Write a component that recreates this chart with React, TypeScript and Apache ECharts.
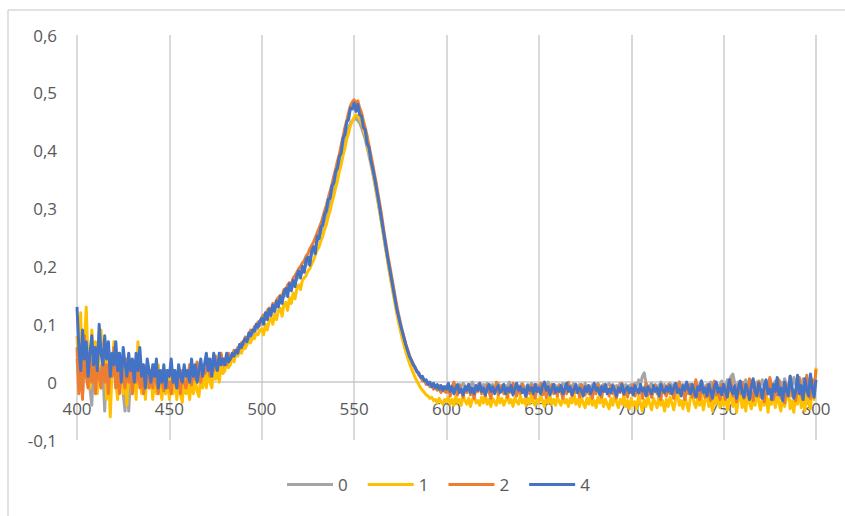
import React, { useEffect, useRef } from "react";
import * as echarts from "echarts";

// Absorbance spectra, sampled every 1 nm from 400 to 800 nm
const WL_START = 400;
const WL_STEP = 1;

const seriesNames = ["0", "1", "2", "4"];
const seriesColors = ["#A5A5A5", "#FFC000", "#ED7D31", "#4472C4"];

const xTicks = [400, 450, 500, 550, 600, 650, 700, 750, 800];
const yTicks = [-0.1, 0, 0.1, 0.2, 0.3, 0.4, 0.5, 0.6];

const sample0 = [
  0.04, 0.0, 0.05, -0.02, 0.03, 0.06, 0.01, -0.01, -0.04, 0.03,
  0.05, 0.0, 0.03, -0.01, 0.02, -0.05, 0.04, 0.01, -0.02, 0.03,
  0.04, -0.01, 0.02, 0.0, 0.03, -0.02, -0.05, 0.02, -0.05, 0.01,
  0.03, -0.01, 0.02, 0.0, 0.04, -0.01, 0.02, -0.02, 0.03, 0.0,
  0.01, -0.02, 0.02, 0.0, -0.01, 0.02, -0.01, 0.01, -0.02, 0.01,
  0.0, -0.01, 0.02, -0.01, 0.01, 0.0, -0.02, 0.01, 0.0, -0.01,
  0.02, 0.0, 0.01, -0.005, 0.02, 0.0, 0.01, 0.025, 0.005, 0.015,
  0.02, 0.005, 0.03, 0.015, 0.025, 0.01, 0.03, 0.02, 0.035, 0.025,
  0.035, 0.03, 0.04, 0.038, 0.045, 0.042, 0.05, 0.052, 0.058, 0.056,
  0.064, 0.066, 0.072, 0.074, 0.08, 0.082, 0.088, 0.09, 0.096, 0.098,
  0.104, 0.106, 0.11, 0.114, 0.118, 0.12, 0.126, 0.128, 0.134, 0.136,
  0.14, 0.144, 0.148, 0.152, 0.156, 0.16, 0.164, 0.168, 0.172, 0.178,
  0.182, 0.186, 0.192, 0.196, 0.202, 0.208, 0.214, 0.22, 0.228, 0.234,
  0.242, 0.25, 0.258, 0.268, 0.278, 0.288, 0.3, 0.312, 0.324, 0.336,
  0.35, 0.362, 0.376, 0.39, 0.404, 0.418, 0.43, 0.44, 0.448, 0.452,
  0.454, 0.456, 0.452, 0.448, 0.44, 0.43, 0.42, 0.406, 0.392, 0.378,
  0.362, 0.346, 0.328, 0.31, 0.292, 0.272, 0.252, 0.232, 0.214, 0.194,
  0.176, 0.158, 0.142, 0.126, 0.11, 0.096, 0.084, 0.072, 0.062, 0.052,
  0.044, 0.036, 0.03, 0.024, 0.018, 0.014, 0.01, 0.006, 0.004, 0.0,
  -0.002, -0.004, -0.004, -0.006, -0.006, -0.008, -0.006, -0.008, -0.01, -0.008,
  -0.008, -0.004, -0.01, -0.006, -0.002, -0.008, -0.012, -0.004, -0.008, -0.002,
  -0.006, -0.01, -0.004, -0.008, 0.0, -0.006, -0.01, -0.004, -0.008, -0.012,
  -0.004, -0.008, -0.002, -0.01, -0.006, -0.004, -0.01, -0.006, -0.002, -0.008,
  -0.012, -0.004, -0.008, -0.006, 0.0, -0.01, -0.006, -0.004, -0.008, -0.012,
  -0.006, -0.002, -0.008, -0.01, -0.004, -0.008, -0.002, -0.006, -0.01, -0.004,
  -0.008, -0.006, -0.012, -0.004, -0.006, 0.0, -0.008, -0.01, -0.004, -0.006,
  -0.01, -0.004, -0.008, -0.002, -0.006, -0.012, -0.004, -0.008, -0.006, -0.002,
  -0.008, -0.01, -0.004, -0.006, -0.012, -0.002, -0.008, -0.006, -0.01, -0.004,
  -0.006, -0.008, -0.002, -0.01, -0.006, -0.004, -0.012, -0.006, -0.002, -0.008,
  -0.004, -0.01, -0.006, -0.008, -0.002, -0.006, -0.01, -0.004, -0.008, -0.006,
  -0.004, -0.008, -0.002, -0.006, 0.004, -0.004, 0.01, 0.016, -0.002, -0.008,
  -0.006, -0.002, -0.01, -0.004, -0.008, -0.006, 0.0, -0.008, -0.004, -0.01,
  -0.006, -0.002, -0.008, -0.004, -0.01, -0.006, 0.0, -0.008, -0.004, -0.006,
  -0.002, -0.008, -0.004, -0.01, -0.006, -0.002, -0.008, -0.004, 0.002, -0.006,
  -0.01, -0.004, -0.008, 0.0, -0.006, -0.012, -0.002, -0.008, -0.004, 0.002,
  -0.006, -0.01, 0.004, -0.004, 0.01, 0.014, -0.002, -0.008, 0.0, -0.006,
  -0.01, -0.002, 0.004, -0.008, -0.004, 0.002, -0.01, -0.006, 0.0, -0.008,
  -0.004, 0.004, -0.01, -0.002, -0.006, 0.006, -0.008, -0.004, 0.002, -0.01,
  -0.006, 0.0, -0.008, 0.006, -0.004, -0.01, 0.002, -0.006, 0.008, -0.004,
  -0.01, 0.0, -0.006, 0.006, -0.008, -0.002, 0.004, -0.01, -0.004, 0.002,
  0.0,
];

const sample1 = [
  0.08, 0.02, 0.12, -0.02, 0.06, 0.13, 0.03, -0.01, 0.09, 0.04,
  0.07, -0.02, 0.05, 0.09, 0.01, 0.06, -0.03, 0.04, -0.06, 0.02,
  0.07, 0.0, -0.03, 0.05, 0.02, -0.02, 0.04, -0.04, 0.03, 0.0,
  -0.02, 0.03, -0.03, 0.07, 0.01, -0.02, 0.03, -0.03, 0.02, -0.01,
  0.02, -0.03, 0.01, -0.02, 0.03, -0.01, -0.03, 0.02, -0.02, 0.01,
  -0.03, 0.01, -0.02, 0.02, -0.03, 0.0, -0.02, -0.035, 0.01, -0.02,
  0.0, -0.03, 0.01, -0.02, 0.005, -0.015, -0.025, 0.01, -0.01, 0.015,
  -0.01, 0.02, 0.0, -0.01, 0.025, 0.005, 0.02, 0.0, 0.03, 0.015,
  0.02, 0.035, 0.025, 0.03, 0.045, 0.035, 0.05, 0.045, 0.055, 0.05,
  0.06, 0.058, 0.065, 0.07, 0.068, 0.078, 0.075, 0.084, 0.082, 0.09,
  0.092, 0.082, 0.1, 0.09, 0.106, 0.112, 0.1, 0.118, 0.108, 0.124,
  0.128, 0.114, 0.134, 0.138, 0.124, 0.146, 0.136, 0.154, 0.144, 0.162,
  0.168, 0.16, 0.176, 0.18, 0.184, 0.192, 0.196, 0.204, 0.21, 0.22,
  0.228, 0.234, 0.244, 0.252, 0.264, 0.272, 0.286, 0.296, 0.31, 0.322,
  0.336, 0.348, 0.364, 0.376, 0.392, 0.404, 0.42, 0.43, 0.444, 0.45,
  0.458, 0.462, 0.46, 0.456, 0.448, 0.438, 0.426, 0.412, 0.398, 0.382,
  0.366, 0.348, 0.33, 0.312, 0.292, 0.272, 0.252, 0.232, 0.212, 0.192,
  0.174, 0.156, 0.138, 0.12, 0.104, 0.09, 0.076, 0.064, 0.052, 0.042,
  0.032, 0.024, 0.016, 0.008, 0.002, -0.004, -0.01, -0.014, -0.018, -0.022,
  -0.024, -0.028, -0.026, -0.032, -0.03, -0.036, -0.028, -0.034, -0.038, -0.03,
  -0.034, -0.026, -0.038, -0.03, -0.04, -0.024, -0.036, -0.03, -0.04, -0.022,
  -0.032, -0.038, -0.028, -0.042, -0.03, -0.024, -0.036, -0.032, -0.04, -0.026,
  -0.036, -0.022, -0.038, -0.03, -0.042, -0.028, -0.034, -0.04, -0.024, -0.036,
  -0.028, -0.04, -0.032, -0.022, -0.036, -0.03, -0.042, -0.026, -0.034, -0.038,
  -0.024, -0.036, -0.03, -0.04, -0.028, -0.038, -0.02, -0.034, -0.04, -0.03,
  -0.036, -0.024, -0.032, -0.042, -0.028, -0.036, -0.022, -0.038, -0.03, -0.04,
  -0.026, -0.034, -0.04, -0.024, -0.036, -0.03, -0.042, -0.028, -0.036, -0.02,
  -0.038, -0.03, -0.042, -0.026, -0.036, -0.044, -0.028, -0.038, -0.022, -0.04,
  -0.032, -0.044, -0.026, -0.036, -0.024, -0.042, -0.03, -0.038, -0.046, -0.028,
  -0.04, -0.024, -0.034, -0.044, -0.03, -0.038, -0.022, -0.042, -0.032, -0.046,
  -0.028, -0.04, -0.034, -0.046, -0.024, -0.036, -0.05, -0.03, -0.042, -0.026,
  -0.038, -0.048, -0.028, -0.036, -0.044, -0.022, -0.04, -0.032, -0.05, -0.03,
  -0.042, -0.026, -0.036, -0.048, -0.03, -0.018, -0.04, -0.032, -0.046, -0.024,
  -0.038, -0.05, -0.028, -0.014, -0.036, -0.044, -0.026, -0.04, -0.022, -0.048,
  -0.032, -0.016, -0.042, -0.03, -0.05, -0.024, -0.038, -0.012, -0.044, -0.028,
  -0.04, -0.02, -0.048, -0.034, -0.01, -0.042, -0.026, -0.052, -0.03, -0.016,
  -0.044, -0.028, -0.05, -0.012, -0.036, -0.046, -0.022, -0.04, -0.008, -0.034,
  -0.048, -0.026, -0.04, -0.014, -0.052, -0.03, -0.038, -0.01, -0.044, -0.024,
  -0.036, -0.05, -0.016, -0.042, -0.028, -0.006, -0.046, -0.032, -0.052, -0.02,
  -0.038, -0.004, -0.044, -0.026, -0.05, -0.012, -0.036, -0.046, 0.004, -0.03,
  0.025,
];

const sample2 = [
  0.06, -0.02, 0.03, -0.03, 0.08, 0.01, -0.01, 0.04, 0.0, 0.06,
  -0.02, 0.03, 0.01, -0.01, 0.05, 0.0, 0.03, -0.02, 0.04, 0.01,
  0.06, -0.01, 0.02, -0.02, 0.03, 0.01, -0.01, 0.04, 0.0, 0.02,
  -0.02, 0.03, 0.0, 0.04, -0.01, 0.02, -0.02, 0.01, 0.03, -0.01,
  0.02, -0.01, 0.03, 0.0, -0.02, 0.02, 0.0, -0.015, 0.02, -0.01,
  0.0, -0.02, 0.02, 0.0, -0.01, 0.01, -0.02, 0.02, 0.0, -0.01,
  0.01, 0.03, -0.005, 0.02, 0.005, 0.035, 0.01, 0.0, 0.03, 0.015,
  0.02, 0.04, 0.01, 0.03, 0.02, 0.045, 0.025, 0.035, 0.05, 0.03,
  0.04, 0.03, 0.05, 0.04, 0.045, 0.055, 0.05, 0.06, 0.058, 0.068,
  0.065, 0.078, 0.074, 0.082, 0.09, 0.086, 0.096, 0.094, 0.104, 0.1,
  0.112, 0.116, 0.11, 0.124, 0.128, 0.124, 0.136, 0.132, 0.142, 0.146,
  0.15, 0.148, 0.16, 0.156, 0.168, 0.172, 0.168, 0.18, 0.184, 0.19,
  0.196, 0.2, 0.206, 0.21, 0.218, 0.222, 0.23, 0.236, 0.242, 0.25,
  0.258, 0.266, 0.274, 0.284, 0.296, 0.306, 0.318, 0.33, 0.342, 0.356,
  0.368, 0.382, 0.394, 0.41, 0.424, 0.44, 0.452, 0.466, 0.478, 0.484,
  0.488, 0.482, 0.486, 0.474, 0.466, 0.452, 0.44, 0.426, 0.41, 0.394,
  0.378, 0.36, 0.344, 0.324, 0.306, 0.286, 0.264, 0.244, 0.224, 0.206,
  0.188, 0.17, 0.152, 0.134, 0.118, 0.104, 0.09, 0.078, 0.066, 0.056,
  0.046, 0.038, 0.032, 0.024, 0.02, 0.012, 0.01, 0.002, 0.004, -0.004,
  0.0, -0.008, -0.004, -0.012, -0.006, -0.014, -0.01, -0.018, -0.008, -0.016,
  -0.018, -0.008, -0.024, -0.012, 0.0, -0.016, -0.022, -0.006, -0.014, -0.026,
  -0.01, -0.018, -0.004, -0.022, -0.014, -0.028, -0.008, -0.016, -0.002, -0.02,
  -0.012, -0.024, -0.006, -0.016, -0.028, -0.01, -0.018, 0.0, -0.022, -0.014,
  -0.006, -0.02, -0.012, -0.026, -0.008, -0.018, -0.002, -0.014, -0.024, -0.01,
  -0.02, -0.004, -0.016, -0.026, -0.012, -0.02, -0.006, -0.018, -0.028, -0.01,
  -0.016, -0.002, -0.022, -0.012, -0.026, -0.008, -0.018, -0.004, -0.02, -0.014,
  -0.024, -0.006, -0.016, -0.028, -0.01, -0.02, 0.0, -0.014, -0.024, -0.008,
  -0.018, -0.012, -0.026, -0.004, -0.016, -0.022, -0.008, -0.02, -0.014, -0.028,
  -0.01, -0.02, -0.004, -0.018, -0.026, -0.008, -0.016, -0.012, -0.024, -0.006,
  -0.02, -0.012, -0.028, -0.008, -0.018, -0.002, -0.022, -0.014, -0.026, -0.01,
  -0.018, -0.004, -0.024, -0.012, -0.02, -0.008, -0.028, -0.014, -0.002, -0.022,
  -0.01, -0.026, -0.016, -0.006, -0.02, -0.012, -0.03, -0.008, -0.018, -0.024,
  -0.004, -0.02, -0.012, -0.028, -0.008, -0.016, 0.0, -0.022, -0.014, -0.03,
  -0.01, -0.02, -0.004, -0.026, -0.014, 0.004, -0.02, -0.03, -0.008, -0.016,
  -0.026, -0.006, -0.018, -0.032, -0.01, 0.002, -0.022, -0.014, -0.03, -0.004,
  -0.02, -0.03, -0.008, -0.016, 0.004, -0.024, -0.012, -0.034, -0.006, -0.02,
  0.0, -0.028, -0.014, -0.022, 0.006, -0.018, -0.032, -0.008, -0.02, 0.002,
  -0.026, -0.014, -0.034, -0.006, -0.02, 0.008, -0.016, -0.03, -0.01, -0.022,
  0.004, -0.028, -0.012, -0.036, -0.004, -0.02, 0.01, -0.024, -0.014, -0.032,
  -0.006, 0.008, -0.022, -0.03, -0.01, 0.012, -0.018, -0.028, 0.004, -0.016,
  0.022,
];

const sample4 = [
  0.13, 0.06, 0.02, 0.09, 0.04, 0.07, 0.01, 0.05, 0.08, 0.03,
  0.06, 0.02, 0.1, 0.05, 0.03, 0.08, 0.04, 0.07, 0.01, 0.05,
  0.03, 0.07, 0.02, 0.05, 0.0, 0.06, 0.03, 0.01, 0.05, 0.02,
  0.04, 0.0, 0.05, 0.02, 0.06, 0.01, 0.03, -0.01, 0.04, 0.02,
  0.0, 0.03, 0.01, 0.04, -0.01, 0.02, 0.0, 0.03, -0.01, 0.02,
  0.01, 0.04, 0.0, 0.02, -0.01, 0.03, 0.01, 0.0, 0.03, 0.01,
  0.02, 0.0, 0.04, 0.01, 0.03, 0.0, 0.02, 0.04, 0.01, 0.03,
  0.05, 0.02, 0.04, 0.01, 0.05, 0.03, 0.02, 0.05, 0.03, 0.04,
  0.03, 0.05, 0.035, 0.04, 0.05, 0.045, 0.055, 0.05, 0.065, 0.06,
  0.07, 0.075, 0.07, 0.085, 0.08, 0.09, 0.088, 0.1, 0.095, 0.106,
  0.11, 0.1, 0.12, 0.108, 0.126, 0.115, 0.133, 0.122, 0.14, 0.13,
  0.148, 0.136, 0.155, 0.162, 0.148, 0.17, 0.158, 0.176, 0.165, 0.185,
  0.192, 0.18, 0.2, 0.19, 0.212, 0.216, 0.202, 0.226, 0.234, 0.222,
  0.252, 0.248, 0.268, 0.272, 0.29, 0.296, 0.316, 0.318, 0.34, 0.344,
  0.364, 0.37, 0.39, 0.396, 0.422, 0.428, 0.45, 0.454, 0.474, 0.472,
  0.482, 0.468, 0.48, 0.462, 0.46, 0.44, 0.436, 0.412, 0.406, 0.384,
  0.37, 0.354, 0.336, 0.318, 0.298, 0.278, 0.258, 0.238, 0.218, 0.2,
  0.182, 0.164, 0.146, 0.128, 0.114, 0.1, 0.088, 0.076, 0.064, 0.054,
  0.044, 0.038, 0.03, 0.026, 0.018, 0.016, 0.008, 0.01, 0.002, 0.004,
  -0.004, 0.0, -0.008, -0.002, -0.01, -0.004, -0.012, -0.006, -0.014, -0.008,
  -0.012, -0.002, -0.016, -0.008, -0.02, -0.01, -0.004, -0.018, -0.012, -0.022,
  -0.008, -0.014, -0.004, -0.018, -0.01, -0.02, -0.006, -0.014, -0.002, -0.016,
  -0.01, -0.022, -0.012, -0.004, -0.016, -0.008, -0.02, -0.012, -0.006, -0.018,
  -0.014, -0.004, -0.02, -0.01, -0.016, -0.006, -0.022, -0.012, -0.002, -0.014,
  -0.008, -0.018, -0.012, -0.024, -0.006, -0.014, -0.01, -0.02, -0.004, -0.016,
  -0.01, -0.02, -0.006, 0.0, -0.014, -0.008, -0.022, -0.012, -0.004, -0.018,
  -0.01, -0.016, -0.006, -0.02, -0.012, -0.002, -0.016, -0.008, -0.022, -0.012,
  -0.004, -0.018, -0.01, -0.014, -0.024, -0.008, -0.016, -0.006, -0.02, -0.012,
  -0.002, -0.014, -0.01, -0.022, -0.008, -0.016, -0.004, -0.02, -0.012, -0.018,
  -0.006, -0.014, -0.024, -0.01, -0.016, -0.004, -0.02, -0.012, -0.008, -0.018,
  -0.01, -0.022, -0.006, -0.014, -0.018, -0.004, -0.016, -0.01, -0.024, -0.008,
  -0.014, -0.02, -0.006, -0.016, -0.01, -0.024, -0.004, -0.014, -0.018, -0.008,
  -0.016, -0.006, -0.02, -0.01, -0.002, -0.018, -0.012, -0.024, -0.006, -0.014,
  0.0, -0.012, -0.02, -0.004, -0.016, -0.026, -0.008, -0.014, 0.002, -0.018,
  -0.01, -0.024, -0.004, -0.016, -0.028, -0.008, 0.0, -0.018, -0.01, -0.022,
  -0.004, -0.016, -0.026, 0.004, -0.012, -0.02, -0.006, -0.028, -0.01, 0.002,
  -0.018, -0.026, -0.004, -0.014, -0.03, -0.008, 0.006, -0.016, -0.024, -0.002,
  -0.012, -0.028, -0.006, 0.004, -0.02, -0.012, -0.03, -0.004, -0.016, 0.008,
  -0.022, -0.01, -0.032, 0.0, -0.014, -0.024, 0.01, -0.008, -0.028, -0.016,
  0.012, -0.02, -0.006, -0.03, 0.006, -0.014, -0.024, 0.014, -0.01, -0.026,
  0.004,
];

const samples = [sample0, sample1, sample2, sample4];

const FONT = "'Open Sans', 'Liberation Sans', sans-serif";
const TEXT_COLOR = "#595959";
const GRID_COLOR = "#D9D9D9";

const GRID_TOP = 35;
const GRID_BOTTOM_PX = 440;

function formatComma(v: number): string {
  if (Math.abs(v) < 1e-9) return "0";
  return v.toFixed(1).replace(".", ",");
}

export default function App() {
  const ref = useRef<HTMLDivElement>(null);

  useEffect(() => {
    if (!ref.current) return;
    const chart = echarts.init(ref.current, null, { renderer: "svg" });

    const yMin = yTicks[0];
    const yMax = yTicks[yTicks.length - 1];
    // the wavelength axis sits at value 0, labels included
    const zeroOffset = -((0 - yMin) / (yMax - yMin)) * (GRID_BOTTOM_PX - GRID_TOP);

    const series = samples.map((vals, k) => ({
      name: seriesNames[k],
      type: "line",
      showSymbol: false,
      symbol: "none",
      color: seriesColors[k],
      lineStyle: { width: 3, color: seriesColors[k], join: "round" },
      data: vals.map((v, i) => [WL_START + i * WL_STEP, v]),
      z: 2 + k,
    }));

    chart.setOption({
      animation: false,
      backgroundColor: "#FFFFFF",
      textStyle: { fontFamily: FONT },
      grid: {
        left: 77,
        right: 29,
        top: GRID_TOP,
        bottom: 516 - GRID_BOTTOM_PX,
        containLabel: false,
      },
      xAxis: {
        type: "value",
        min: xTicks[0],
        max: xTicks[xTicks.length - 1],
        interval: xTicks[1] - xTicks[0],
        offset: zeroOffset,
        axisLine: { show: true, onZero: false, lineStyle: { color: "#C8C8C8", width: 1.5 } },
        axisTick: { show: false },
        axisLabel: { color: TEXT_COLOR, fontSize: 17, fontFamily: FONT, margin: 18 },
        splitLine: { show: true, lineStyle: { color: GRID_COLOR, width: 2 } },
      },
      yAxis: {
        type: "value",
        min: yMin,
        max: yMax,
        interval: 0.1,
        axisLine: { show: false },
        axisTick: { show: false },
        splitLine: { show: false },
        axisLabel: {
          color: TEXT_COLOR,
          fontSize: 17,
          fontFamily: FONT,
          margin: 20,
          formatter: (v: number) => formatComma(v),
        },
      },
      legend: {
        data: seriesNames,
        left: 282,
        top: 471,
        icon: "rect",
        itemWidth: 46,
        itemHeight: 3,
        itemGap: 20,
        textStyle: { color: TEXT_COLOR, fontSize: 17, fontFamily: FONT },
      },
      graphic: [
        {
          type: "line",
          shape: { x1: 8, y1: 10, x2: 845, y2: 10 },
          style: { stroke: GRID_COLOR, lineWidth: 1.5 },
          silent: true,
        },
        {
          type: "line",
          shape: { x1: 8, y1: 10, x2: 8, y2: 516 },
          style: { stroke: GRID_COLOR, lineWidth: 1.5 },
          silent: true,
        },
      ],
      series,
    });

    return () => chart.dispose();
  }, []);

  return (
    <div
      ref={ref}
      style={{ position: "fixed", left: 0, top: 0, width: 845, height: 516 }}
    />
  );
}
